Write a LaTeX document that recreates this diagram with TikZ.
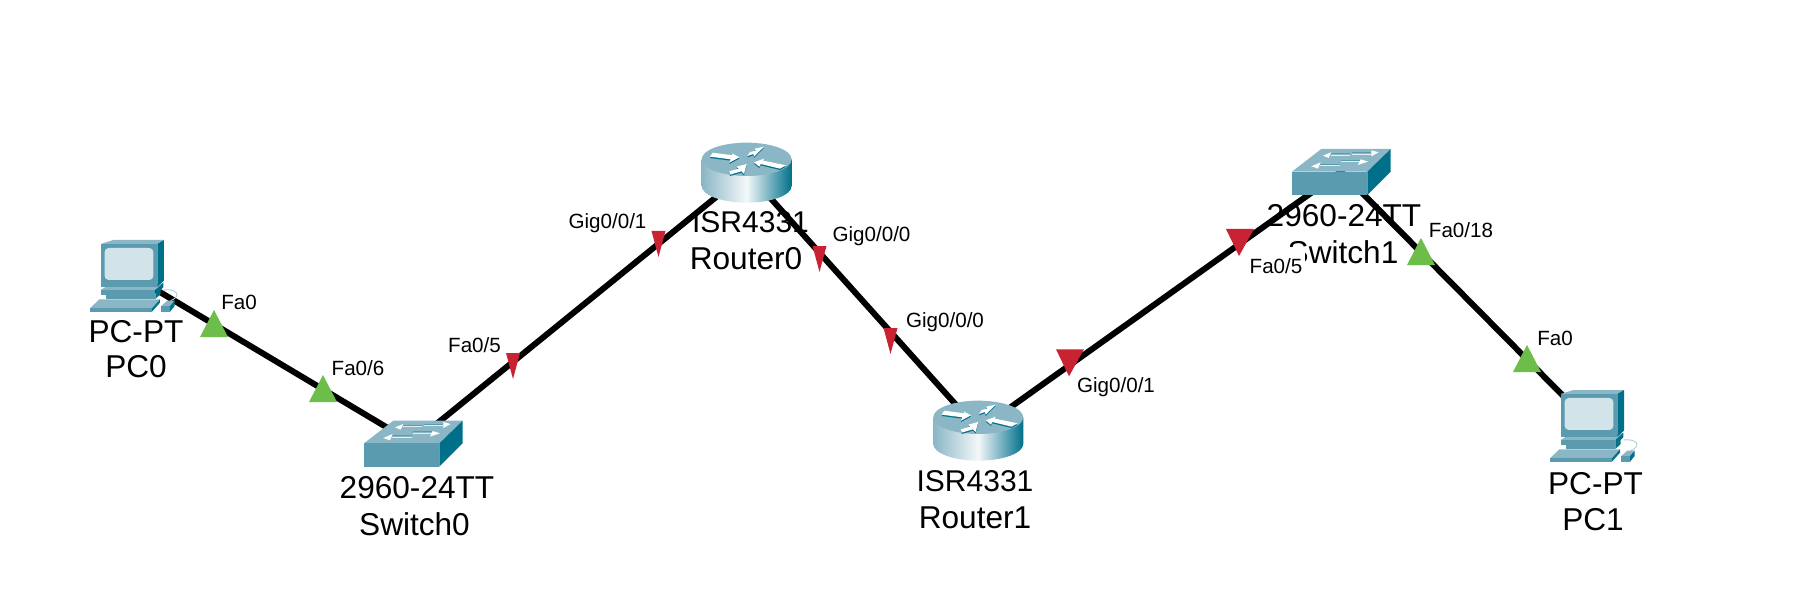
\documentclass[tikz,border=0pt]{standalone}
\usepackage{fontspec}
\setmainfont{Liberation Sans}
\definecolor{pcfront}{HTML}{5A9BB0}
\definecolor{pctop}{HTML}{8AB6C5}
\definecolor{pcside}{HTML}{00708A}
\definecolor{pcscreen}{HTML}{D3E3EA}
\definecolor{portred}{HTML}{C92232}
\definecolor{portgreen}{HTML}{6CBD4A}
\tikzset{
  device/.style={inner sep=0pt,minimum size=0pt,outer sep=0pt},
  link/.style={line width=6pt,black},
  devlabel/.style={inner sep=0pt,font=\fontsize{31.6}{36}\selectfont},
  isrlabel/.style={inner sep=0pt,font=\fontsize{30}{36}\selectfont},
  portlabel/.style={inner sep=0pt,font=\fontsize{20.6}{24}\selectfont},
  hidelabel/.style={portlabel,fill=white,inner xsep=3pt,inner ysep=11pt},
  pcicon/.pic={
    % keyboard
    \fill[pctop] (30,235) -- (58,208) -- (240,208) -- (216,235) -- cycle;
    \fill[pcfront] (30,235) -- (216,235) -- (216,245) -- (30,245) -- cycle;
    \fill[pcside] (216,235) -- (240,208) -- (240,218) -- (216,245) -- cycle;
    % mouse and cable
    \draw[pctop!70,line width=.9pt] (250,180) .. controls (285,175) and (310,195) .. (272,212);
    \fill[pctop] (244,228) -- (262,212) -- (284,212) -- (270,228) -- cycle;
    \fill[pcfront] (244,228) -- (270,228) -- (270,245) -- (244,245) -- cycle;
    \fill[pcside] (270,228) -- (284,212) -- (284,228) -- (270,245) -- cycle;
    % base
    \fill[pctop] (62,180) -- (78,170) -- (250,160) -- (226,180) -- cycle;
    \fill[pcfront] (62,180) -- (226,180) -- (226,195) -- (62,195) -- cycle;
    \fill[pcside] (226,180) -- (250,158) -- (250,172) -- (226,195) -- cycle;
    \fill[pcfront] (78,195) -- (226,195) -- (226,207) -- (78,207) -- cycle;
    \fill[pcside] (226,195) -- (242,180) -- (242,192) -- (226,207) -- cycle;
    % monitor
    \fill[pctop] (62,42) -- (100,30) -- (252,30) -- (232,42) -- cycle;
    \fill[pcfront] (62,42) rectangle (232,170);
    \fill[pcside] (232,42) -- (252,30) -- (252,152) -- (232,170) -- cycle;
    \fill[pcscreen,rounded corners=4pt] (74,54) rectangle (220,150);
  },
  switchicon/.pic={
    \fill[pctop] (42,130) -- (130,62) -- (338,62) -- (268,130) -- cycle;
    \fill[pcfront] (42,130) rectangle (268,200);
    \fill[pcside] (268,130) -- (338,62) -- (338,130) -- (268,200) -- cycle;
    % shafts: dark edge and pale body
    \draw[pcfront,line width=.7pt] (158,76) -- (215,76) (125,107) -- (185,107) (222,73) -- (280,73) (190,95) -- (248,95);
    \draw[white!75!pctop,line width=.9pt] (158,80) -- (215,80) (125,112) -- (185,112) (222,77) -- (280,77) (190,100) -- (248,100);
    % heads
    \fill[white] (135,82) -- (160,72) -- (152,89) -- cycle;
    \fill[white] (100,114) -- (128,102) -- (120,121) -- cycle;
    \fill[white] (302,72) -- (280,66) -- (280,84) -- cycle;
    \fill[white] (270,100) -- (248,93) -- (240,110) -- cycle;
  },
  routerarrows/.pic={
    \fill (148,82) -- (118,98) -- (122,88) -- (60,80) -- (68,68) -- (128,76) -- (126,70) -- cycle;
    \fill (222,50) -- (192,80) -- (190,72) -- (172,78) -- (180,66) -- (198,62) -- (194,56) -- cycle;
    \fill (192,97) -- (222,86) -- (220,92) -- (288,106) -- (270,116) -- (212,102) -- (208,110) -- cycle;
    \fill (170,102) -- (162,132) -- (154,124) -- (120,134) -- (118,124) -- (146,116) -- (140,110) -- cycle;
  },
  routericon/.pic={
    \shade[shading=axis,left color=pctop,right color=pcside,middle color=white!90!pctop]
      (35,88) -- (35,168) arc[start angle=180,end angle=0,x radius=135,y radius=50] -- (305,88) -- cycle;
    \fill[pctop] (170,88) ellipse[x radius=135,y radius=50];
    \begin{scope}[shift={(0,4)},pcside]\pic[pcside] {routerarrows};\end{scope}
    \begin{scope}[white]\pic[white] {routerarrows};\end{scope}
  },
}
\newcommand{\upport}[2]{\fill[portgreen] (#1,#2) -- (#1-14,#2+27) -- (#1+14,#2+27) -- cycle;}
\newcommand{\downport}[2]{\fill[portred] (#1-13,#2) -- (#1+15,#2) -- (#1,#2+27) -- cycle;}
\newcommand{\thinport}[2]{\fill[portred] (#1-7,#2) -- (#1+7,#2) -- (#1,#2+26) -- cycle;}
\newcommand{\placeicon}[3]{\begin{scope}[shift={(#1,#2)},x=.3333pt,y=-.3333pt]\pic {#3};\end{scope}}
\begin{document}
\begin{tikzpicture}[x=1pt,y=-1pt]
\useasboundingbox (0,0) rectangle (1807,604);
% anchor points of the devices
\node[device] (pc0) at (133,276) {};
\node[device] (sw0) at (413,443) {};
\node[device] (r0) at (747,172) {};
\node[device] (r1) at (978.6,430) {};
\node[device] (sw1) at (1341,171.6) {};
\node[device] (pc1) at (1593,426) {};
% links
\draw[link] (pc0.center) -- (sw0.center);
\draw[link] (sw0.center) -- (r0.center);
\draw[link] (r0.center) -- (r1.center);
\draw[link] (r1.center) -- (sw1.center);
\draw[link] (sw1.center) -- (pc1.center);
% device icons
\placeicon{80}{230}{pcicon}
\placeicon{1540}{380}{pcicon}
\placeicon{350}{400}{switchicon}
\placeicon{1278}{128.3}{switchicon}
\placeicon{690}{130}{routericon}
\placeicon{921.6}{388}{routericon}
% device labels
\node[devlabel] (pc0a) at (136,332) {PC-PT};
\node[devlabel] (pc0b) at (136,367) {PC0};
\node[devlabel] (sw0a) at (417,488) {2960-24TT};
\node[devlabel] (sw0b) at (414.5,524) {Switch0};
\node[isrlabel] (r0a) at (750.5,222) {ISR4331};
\node[devlabel] (r0b) at (746,259) {Router0};
\node[isrlabel] (r1a) at (975,481) {ISR4331};
\node[devlabel] (r1b) at (975,518) {Router1};
\node[devlabel] (sw1a) at (1344,216) {2960-24TT};
\node[devlabel] (sw1b) at (1343,252) {Switch1};
\node[devlabel] (pc1a) at (1595.5,484) {PC-PT};
\node[devlabel] (pc1b) at (1593,520) {PC1};
% port labels
\node[portlabel] (l1) at (239,302) {Fa0};
\node[portlabel] (l2) at (358,368) {Fa0/6};
\node[portlabel] (l3) at (474.5,345) {Fa0/5};
\node[portlabel] (l4) at (607.5,223.5) {Gig0/0/1};
\node[portlabel] (l5) at (871.5,236) {Gig0/0/0};
\node[portlabel] (l6) at (945,322) {Gig0/0/0};
\node[portlabel] (l7) at (1116,387) {Gig0/0/1};
\node[hidelabel] (l8) at (1276,266) {Fa0/5};
\node[portlabel] (l9) at (1461,230) {Fa0/18};
\node[portlabel] (l10) at (1555,338) {Fa0};
% port markers
\upport{214}{310}
\upport{323}{375}
\upport{1421}{238}
\upport{1527}{345}
\downport{1069}{349.3}
\downport{1239}{229}
\thinport{513}{353}
\thinport{658.5}{231}
\thinport{819.5}{246}
\thinport{890.5}{328}
\end{tikzpicture}
\end{document}
